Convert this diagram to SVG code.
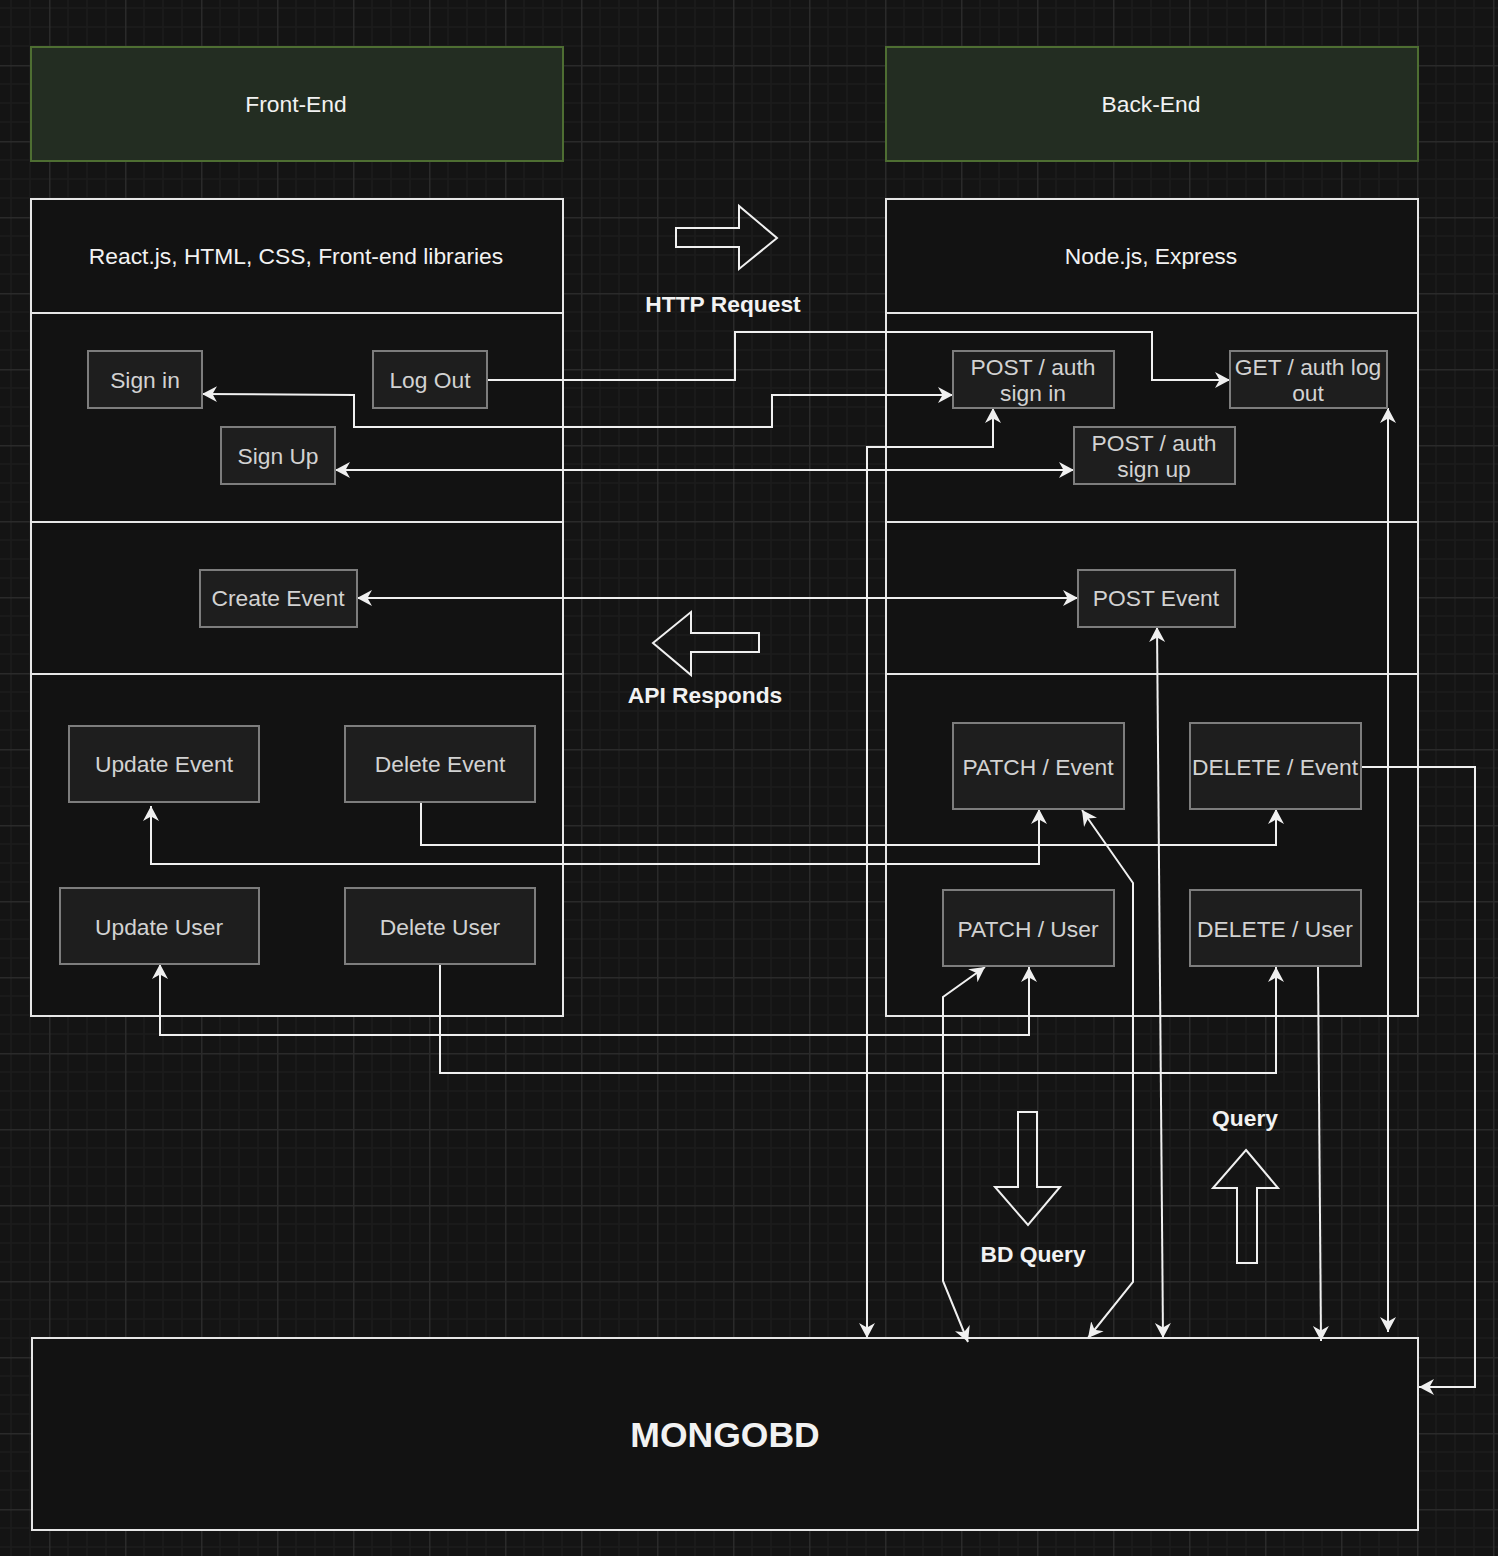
<svg xmlns="http://www.w3.org/2000/svg" width="1498" height="1556" viewBox="0 0 1498 1556">
<style>
.hdr{fill:#232d22;stroke:#4e6e32;stroke-width:2}
.cont{fill:#121212;stroke:#e6e6e6;stroke-width:2}
.div{stroke:#e6e6e6;stroke-width:2}
.box{fill:#1e1e1e;stroke:#7d7d7d;stroke-width:2}
.t{font-family:"Liberation Sans",Arial,sans-serif;font-size:22.8px;text-anchor:middle;dominant-baseline:central}
.tw{fill:#f2f2f2}
.tg{fill:#d2d2d2}
.b{font-weight:bold;fill:#f2f2f2}
.edge{fill:none;stroke:#f0f0f0;stroke-width:2}
.blk{fill:none;stroke:#f0f0f0;stroke-width:2}
</style>
<defs>
<pattern id="grid" x="49" y="65" width="76" height="76" patternUnits="userSpaceOnUse">
<path d="M19,0V76M38,0V76M57,0V76M0,19H76M0,38H76M0,57H76" stroke="#1b1b1b" stroke-width="1.5" fill="none"/>
<path d="M0.75,0V76M0,0.75H76" stroke="#2a2a2a" stroke-width="1.5" fill="none"/>
</pattern>
<marker id="ah" markerUnits="userSpaceOnUse" markerWidth="17" markerHeight="17" refX="15" refY="8.5" orient="auto-start-reverse">
<path d="M0,0.5L15,8.5L0,16.5L4.5,8.5Z" fill="#f0f0f0"/>
</marker>
</defs>
<rect width="1498" height="1556" fill="#141414"/>
<rect width="1498" height="1556" fill="url(#grid)"/>

<g id="front-end-header"><rect class="hdr" x="31" y="47" width="532" height="114"/><text class="t tw" x="296" y="104">Front-End</text></g>
<g id="back-end-header"><rect class="hdr" x="886" y="47" width="532" height="114"/><text class="t tw" x="1151" y="104">Back-End</text></g>

<g id="front-end-container">
<rect class="cont" x="31" y="199" width="532" height="817"/>
<path class="div" d="M31,313H563M31,522H563M31,674H563"/>
<text class="t tw" x="296" y="256">React.js, HTML, CSS, Front-end libraries</text>
</g>
<g id="back-end-container">
<rect class="cont" x="886" y="199" width="532" height="817"/>
<path class="div" d="M886,313H1418M886,522H1418M886,674H1418"/>
<text class="t tw" x="1151" y="256">Node.js, Express</text>
</g>
<g id="mongodb"><rect class="cont" x="32" y="1338" width="1386" height="192"/><text class="t b" style="font-size:35.5px" x="725" y="1435">MONGOBD</text></g>

<g id="connectors">
<path class="edge" marker-end="url(#ah)" d="M487,380H735V332H1152V380H1230"/>
<path class="edge" marker-start="url(#ah)" marker-end="url(#ah)" d="M202,394L354,395V427H772V395H953"/>
<path class="edge" marker-start="url(#ah)" marker-end="url(#ah)" d="M335,470H1074"/>
<path class="edge" marker-start="url(#ah)" marker-end="url(#ah)" d="M357,598H1078"/>
<path class="edge" marker-start="url(#ah)" marker-end="url(#ah)" d="M993,408V447H867V1338"/>
<path class="edge" marker-start="url(#ah)" marker-end="url(#ah)" d="M1388,408V1332"/>
<path class="edge" marker-start="url(#ah)" marker-end="url(#ah)" d="M1157,627L1163,1338"/>
<path class="edge" marker-start="url(#ah)" marker-end="url(#ah)" d="M1082,810L1133,883V1282L1088,1338"/>
<path class="edge" marker-start="url(#ah)" marker-end="url(#ah)" d="M985,967L943,997V1281L968,1342"/>
<path class="edge" marker-end="url(#ah)" d="M1318,967L1321,1341"/>
<path class="edge" marker-end="url(#ah)" d="M1361,767H1475V1387H1419"/>
<path class="edge" marker-end="url(#ah)" d="M421,802V845H1276V809"/>
<path class="edge" marker-start="url(#ah)" marker-end="url(#ah)" d="M151,806V864H1039V809"/>
<path class="edge" marker-start="url(#ah)" marker-end="url(#ah)" d="M160,964V1035H1029V967"/>
<path class="edge" marker-end="url(#ah)" d="M440,964V1073H1276V967"/>
</g>

<g id="sign-in"><rect class="box" x="88" y="351" width="114" height="57"/><text class="t tg" x="145" y="380">Sign in</text></g>
<g id="log-out"><rect class="box" x="373" y="351" width="114" height="57"/><text class="t tg" x="430" y="380">Log Out</text></g>
<g id="sign-up"><rect class="box" x="221" y="427" width="114" height="57"/><text class="t tg" x="278" y="456">Sign Up</text></g>
<g id="create-event"><rect class="box" x="200" y="570" width="157" height="57"/><text class="t tg" x="278" y="598">Create Event</text></g>
<g id="update-event"><rect class="box" x="69" y="726" width="190" height="76"/><text class="t tg" x="164" y="764">Update Event</text></g>
<g id="delete-event"><rect class="box" x="345" y="726" width="190" height="76"/><text class="t tg" x="440" y="764">Delete Event</text></g>
<g id="update-user"><rect class="box" x="60" y="888" width="199" height="76"/><text class="t tg" x="159" y="927">Update User</text></g>
<g id="delete-user"><rect class="box" x="345" y="888" width="190" height="76"/><text class="t tg" x="440" y="927">Delete User</text></g>

<g id="post-auth-sign-in"><rect class="box" x="953" y="351" width="161" height="57"/><text class="t tg" x="1033" y="367">POST / auth</text><text class="t tg" x="1033" y="393">sign in</text></g>
<g id="get-auth-log-out"><rect class="box" x="1230" y="351" width="157" height="57"/><text class="t tg" x="1308" y="367">GET / auth log</text><text class="t tg" x="1308" y="393">out</text></g>
<g id="post-auth-sign-up"><rect class="box" x="1074" y="427" width="161" height="57"/><text class="t tg" x="1154" y="443">POST / auth</text><text class="t tg" x="1154" y="469">sign up</text></g>
<g id="post-event"><rect class="box" x="1078" y="570" width="157" height="57"/><text class="t tg" x="1156" y="598">POST Event</text></g>
<g id="patch-event"><rect class="box" x="953" y="723" width="171" height="86"/><text class="t tg" x="1038" y="767">PATCH / Event</text></g>
<g id="delete-event-api"><rect class="box" x="1190" y="723" width="171" height="86"/><text class="t tg" x="1275" y="767">DELETE / Event</text></g>
<g id="patch-user"><rect class="box" x="943" y="890" width="171" height="76"/><text class="t tg" x="1028" y="929">PATCH / User</text></g>
<g id="delete-user-api"><rect class="box" x="1190" y="890" width="171" height="76"/><text class="t tg" x="1275" y="929">DELETE / User</text></g>

<g id="http-request"><path class="blk" d="M676,228H739V206L777,238L739,269V247H676Z"/><text class="t b" x="723" y="304">HTTP Request</text></g>
<g id="api-responds"><path class="blk" d="M653,643L691,612V633H759V652H691V675Z"/><text class="t b" x="705" y="695">API Responds</text></g>
<g id="bd-query"><path class="blk" d="M1018,1112H1037V1187H1060L1028,1225L995,1187H1018Z"/><text class="t b" x="1033" y="1254">BD Query</text></g>
<g id="query"><path class="blk" d="M1246,1150L1278,1188H1257V1263H1237V1188H1213Z"/><text class="t b" x="1245" y="1118">Query</text></g>
</svg>
